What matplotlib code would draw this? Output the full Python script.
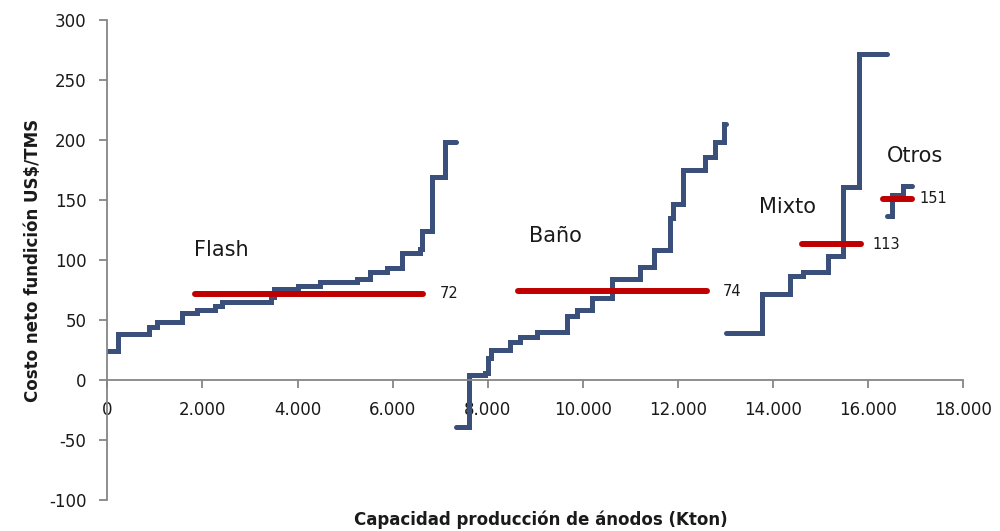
import matplotlib
matplotlib.use("Agg")
import matplotlib.pyplot as plt
from matplotlib.ticker import FuncFormatter, MultipleLocator

plt.rcParams["axes.unicode_minus"] = False

# ---- data ----
flash_edges = [0, 231, 883, 1039, 1564, 1880, 2264, 2405, 3450, 3510, 4016, 4472,
               5244, 5524, 5875, 6190, 6575, 6611, 6821, 7100, 7340]
flash_cost = [24, 38, 44, 48, 56, 58, 62, 65, 69, 76, 78, 82, 84, 90, 93, 106,
              109, 124, 169, 198]

bano_edges = [7330, 7611, 7940, 8010, 8060, 8461, 8672, 9029, 9659, 9870, 10185,
              10606, 11201, 11495, 11832, 11888, 12111, 12568, 12778, 12967, 13000]
bano_cost = [-39, 4, 6, 18, 25, 32, 36, 40, 53, 58, 68, 84, 94, 108, 135, 147,
             175, 186, 198, 213]

mixto_edges = [13010, 13760, 14355, 14634, 15160, 15475, 15811, 16388]
mixto_cost = [39, 72, 87, 90, 103, 161, 272]

otros_edges = [16388, 16493, 16737, 16913]
otros_cost = [137, 154, 162]

group_names = ["Flash", "Baño", "Mixto", "Otros"]
avg_values = [72, 74, 113, 151]
avg_start = [1843, 8642, 14600, 16310]
avg_end = [6644, 12603, 15857, 16913]

# label placement
name_pos_x = [2391, 9413, 14302, 16983]
name_pos_y = [108, 120, 144, 187]
avg_label_x = [6995, 12945, 16079, 17088]

blue = "#3b4f7b"
red = "#c00000"
axis_gray = "#868686"
text_col = "#1a1a1a"

fig = plt.figure(figsize=(10, 5.31), dpi=100)
ax = fig.add_axes([0.1073, 0.0584, 0.856, 0.9039])

for edges, cost in [(flash_edges, flash_cost), (bano_edges, bano_cost),
                    (mixto_edges, mixto_cost), (otros_edges, otros_cost)]:
    ax.step(edges, cost + [cost[-1]], where="post", color=blue, lw=3.6,
            solid_capstyle="round", solid_joinstyle="miter", zorder=2)

for v, x0, x1, lx in zip(avg_values, avg_start, avg_end, avg_label_x):
    ax.plot([x0, x1], [v, v], color=red, lw=4.3, solid_capstyle="round", zorder=3)
    ax.text(lx, v, str(v), fontsize=10.5, color=text_col, va="center", ha="left")

for name, x, y in zip(group_names, name_pos_x, name_pos_y):
    ax.text(x, y, name, fontsize=15, color=text_col, ha="center", va="center")

ax.set_xlim(0, 18000)
ax.set_ylim(-100, 300)
ax.xaxis.set_major_locator(MultipleLocator(2000))
ax.yaxis.set_major_locator(MultipleLocator(50))
ax.xaxis.set_major_formatter(FuncFormatter(lambda v, p: f"{int(v):,}".replace(",", ".")))

for s in ["top", "right"]:
    ax.spines[s].set_visible(False)
ax.spines["bottom"].set_position(("data", 0))
ax.spines["bottom"].set_color(axis_gray)
ax.spines["left"].set_color(axis_gray)
ax.spines["bottom"].set_linewidth(1.3)
ax.spines["left"].set_linewidth(1.3)

ax.tick_params(axis="both", direction="out", length=6, width=1.3, color=axis_gray,
               labelsize=12, labelcolor=text_col, pad=9)

ax.set_ylabel("Costo neto fundición US$/TMS", fontsize=12, fontweight="bold",
              color=text_col, labelpad=5)
ax.set_xlabel("Capacidad producción de ánodos (Kton)", fontsize=12,
              fontweight="bold", color=text_col)
ax.xaxis.set_label_coords(0.506, -0.042)
ax.xaxis.label.set_verticalalignment("center")

fig.savefig("out.png", dpi=100)
